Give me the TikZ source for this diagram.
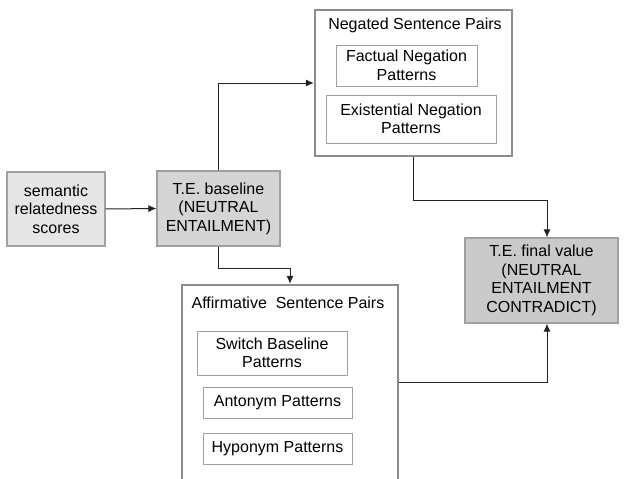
\documentclass[tikz,border=0pt]{standalone}
\usepackage{fontspec}
\setmainfont{Liberation Sans}
\usetikzlibrary{arrows.meta}
\definecolor{fillA}{HTML}{E6E6E6}
\definecolor{fillB}{HTML}{D5D5D5}
\definecolor{fillC}{HTML}{CACACA}
\definecolor{edgeA}{HTML}{A0A0A0}
\definecolor{edgeB}{HTML}{8C8C8C}
\definecolor{lineC}{HTML}{222222}
\tikzset{
  txt/.style={font=\fontsize{16}{18.5}\selectfont, align=center, text=black},
  filledbox/.style={txt, draw=edgeA, line width=1.2pt, inner sep=0pt},
  container/.style={draw=edgeB, line width=2.4pt, fill=white, inner sep=0pt},
  patbox/.style={txt, draw=edgeA, line width=0.8pt, fill=white, inner sep=0pt},
  conn/.style={draw=lineC, line width=1pt, -{Latex[length=8pt,width=7pt]}}
}
\begin{document}
\begin{tikzpicture}[x=1pt,y=-1pt]
\useasboundingbox[fill=white] (0,0) rectangle (625,479);
\begin{scope}
\clip (0,0) rectangle (625,479);
% filled boxes
\node[filledbox, fill=fillA, minimum width=98pt, minimum height=74pt] (sem) at (56,209) {semantic\\relatedness\\scores};
\node[filledbox, fill=fillB, minimum width=123pt, minimum height=75pt] (base) at (218.5,208.5) {T.E. baseline\\(NEUTRAL\\ENTAILMENT)};
\node[filledbox, fill=fillC, minimum width=153pt, minimum height=85pt] (final) at (541.5,280.5) {T.E. final value\\(NEUTRAL\\ENTAILMENT\\CONTRADICT)};
% negated container
\node[container, minimum width=197pt, minimum height=146pt] (neg) at (413.5,83) {};
\node[txt] (negt) at (415,25) {Negated Sentence Pairs};
\node[patbox, minimum width=141pt, minimum height=41pt] (fact) at (406.5,65.5) {Factual Negation\\Patterns};
\node[patbox, minimum width=170pt, minimum height=48pt] (exist) at (411,119) {Existential Negation\\Patterns};
% affirmative container
\node[container, minimum width=216pt, minimum height=215pt] (aff) at (290,392.5) {};
\node[txt] (afft) at (288,303) {Affirmative \ Sentence Pairs};
\node[patbox, minimum width=150pt, minimum height=44pt] (sw) at (272,353) {Switch Baseline\\Patterns};
\node[patbox, minimum width=149pt, minimum height=31pt] (ant) at (277.5,402.5) {Antonym Patterns};
\node[patbox, minimum width=149pt, minimum height=31pt] (hyp) at (277.5,448.5) {Hyponym Patterns};
% helper coordinates
\coordinate (c1) at (547,200);
\coordinate (c3) at (0,382);
% connectors
\draw[conn] (sem.east) -- (base.west);
\draw[conn] (base.north) |- (neg.west);
\draw[conn] (neg.south) |- (c1) -- (c1 |- final.north);
\draw[conn] (base.south) -- ++(0,22) -| (aff.north);
\draw[conn] (aff.east |- c3) -| (c1 |- final.south);
\end{scope}
\end{tikzpicture}
\end{document}
